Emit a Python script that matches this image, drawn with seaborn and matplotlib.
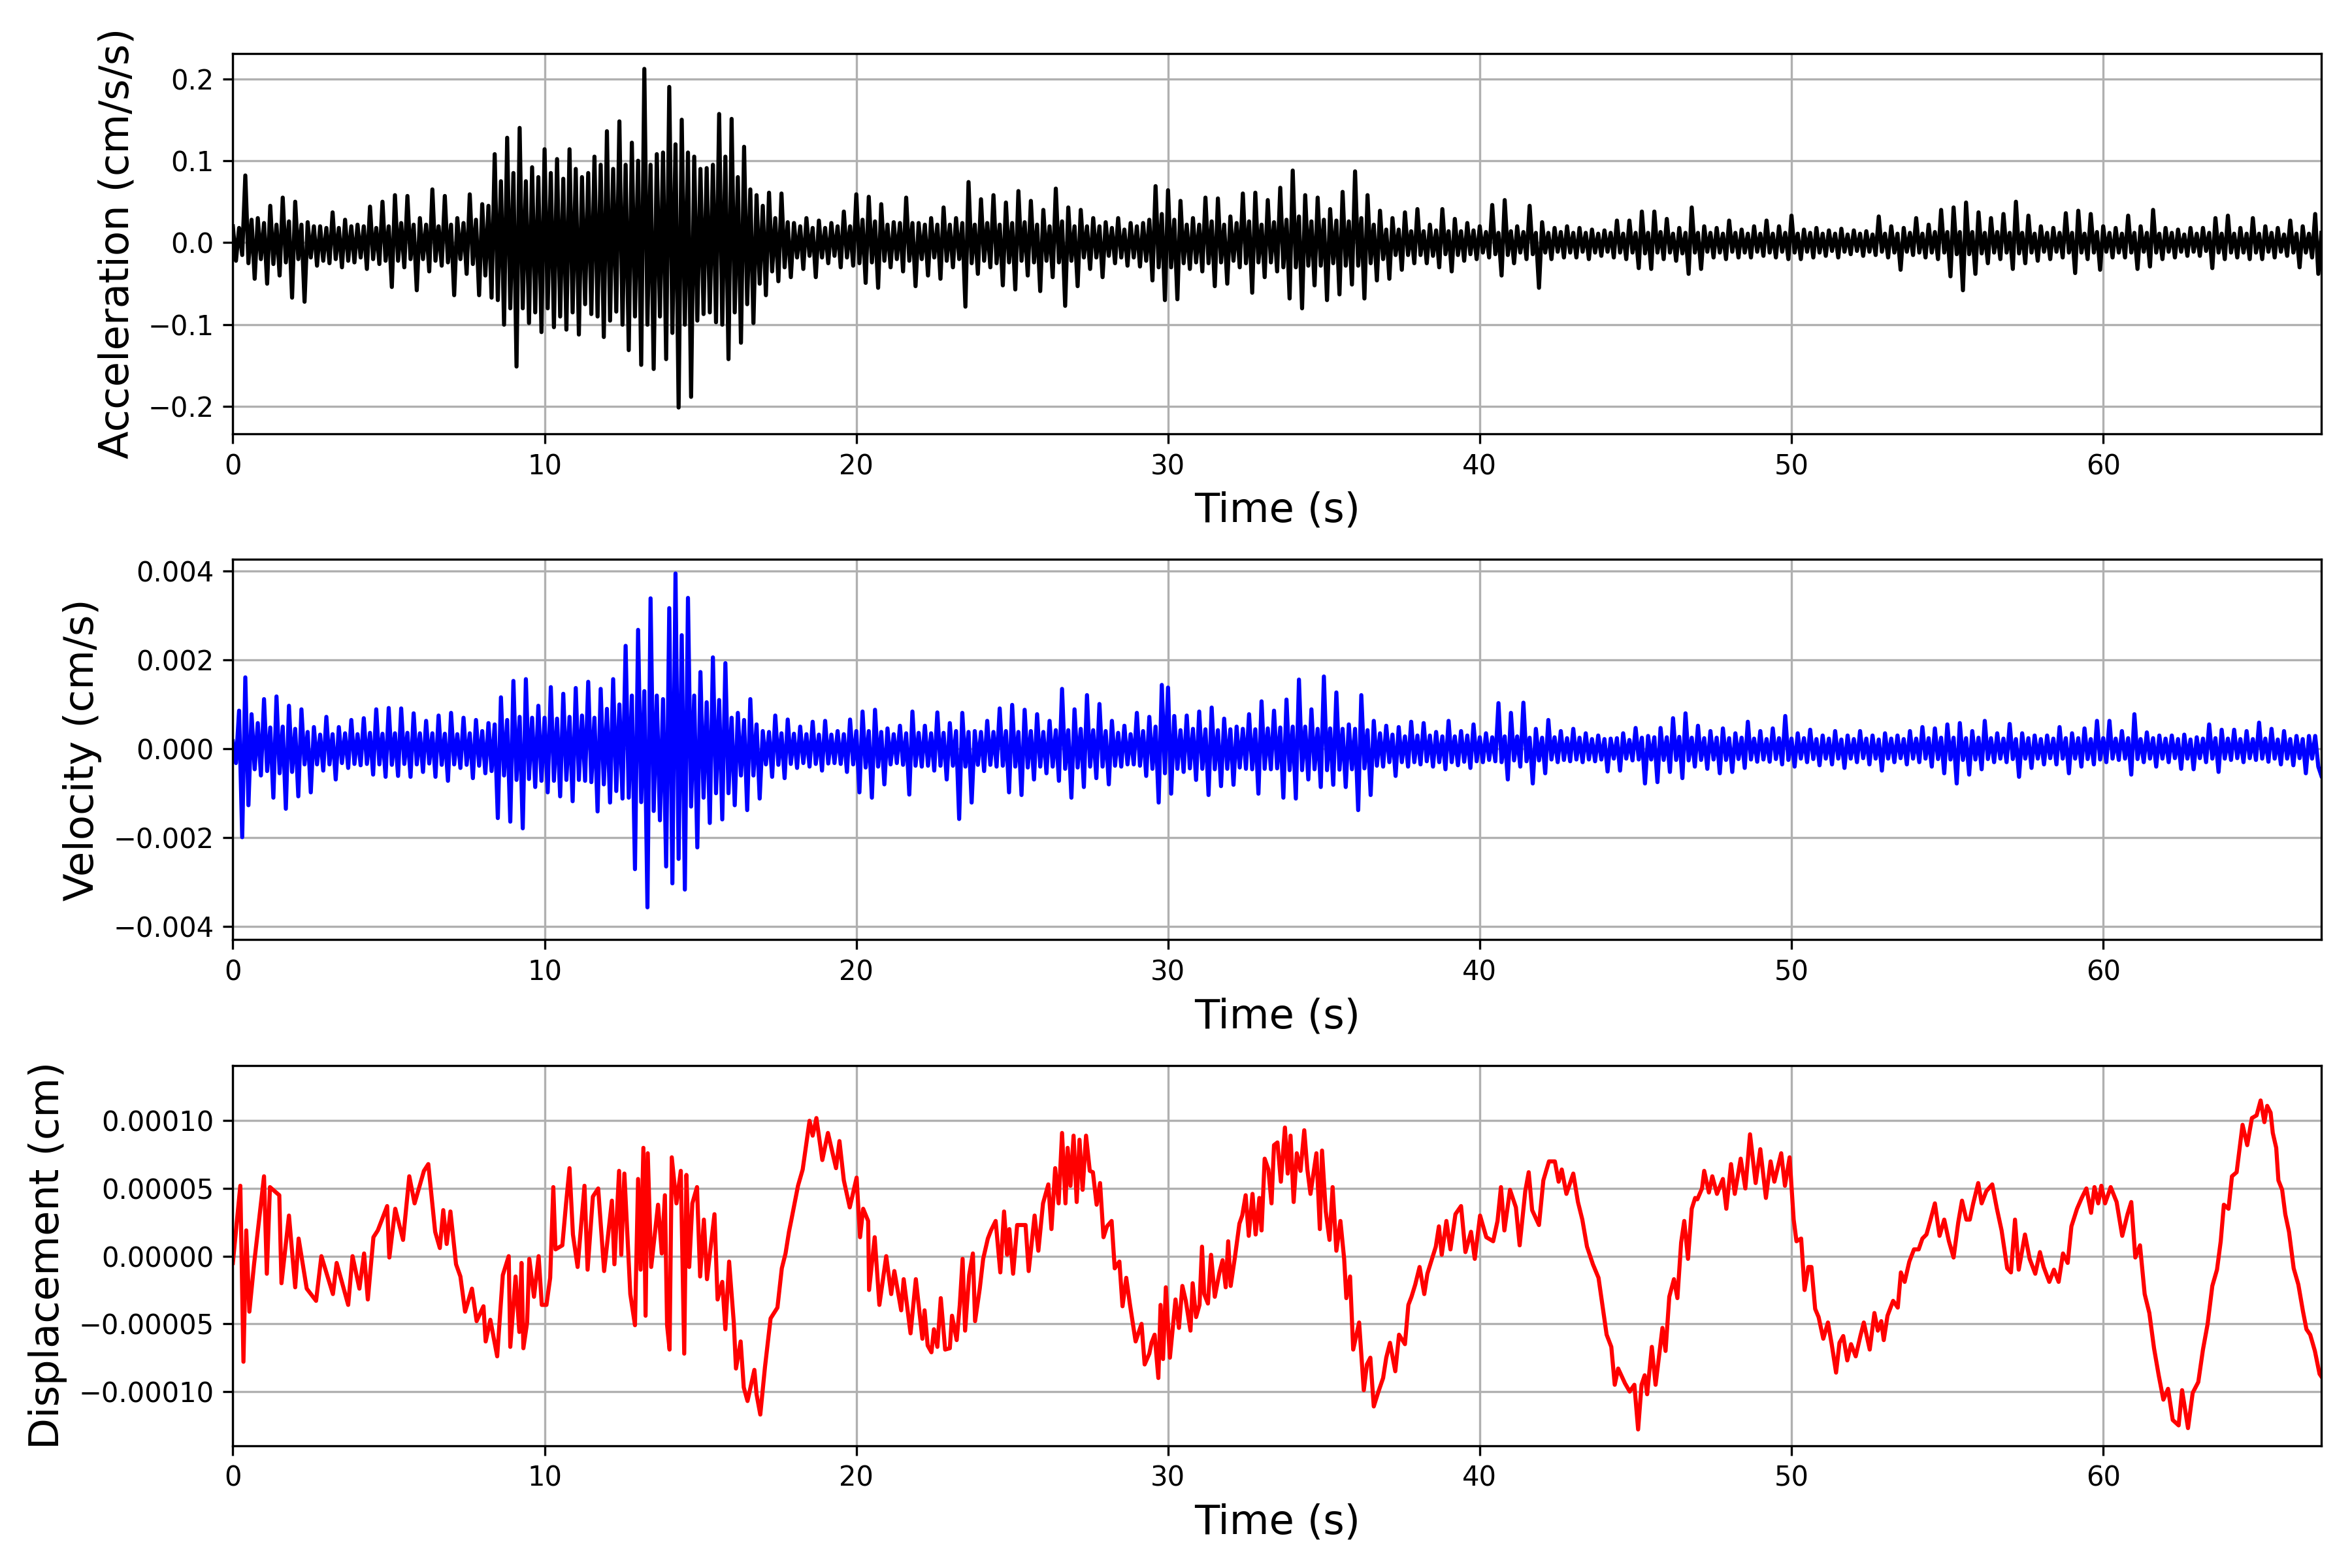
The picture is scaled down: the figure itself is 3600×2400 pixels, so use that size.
import numpy as np
import matplotlib
matplotlib.use("Agg")
import matplotlib.pyplot as plt
import seaborn as sns

# sample interval of the acceleration / velocity traces (s)
DT = 0.1

# acceleration, in units of 0.001 cm/s/s, one row per second (10 samples)
ACC_MILLI = [
    20, -22, 18, -15, 82, -25, 28, -44, 30, -20,
    24, -50, 45, -26, 22, -40, 55, -24, 26, -67,
    50, -20, 22, -72, 25, -18, 20, -28, 20, -22,
    18, -25, 37, -20, 18, -30, 28, -22, 20, -24,
    22, -18, 20, -32, 44, -20, 18, -26, 50, -22,
    20, -54, 58, -22, 24, -30, 57, -20, 22, -58,
    30, -20, 22, -35, 65, -22, 20, -28, 57, -24,
    22, -64, 30, -20, 24, -38, 59, -26, 28, -64,
    47, -40, 45, -67, 108, -70, 75, -100, 128, -80,
    85, -151, 140, -80, 75, -98, 92, -85, 80, -109,
    114, -80, 85, -103, 102, -90, 78, -106, 114, -85,
    90, -112, 80, -75, 85, -87, 105, -90, 95, -115,
    136, -95, 90, -84, 148, -100, 95, -131, 122, -90,
    100, -149, 212, -100, 95, -154, 108, -90, 110, -142,
    190, -110, 120, -201, 150, -100, 110, -188, 105, -95,
    90, -87, 91, -85, 95, -97, 157, -100, 105, -142,
    151, -85, 80, -122, 117, -75, 65, -98, 58, -50,
    45, -64, 61, -35, 30, -47, 60, -30, 25, -42,
    24, -18, 20, -32, 30, -16, 18, -42, 27, -18,
    18, -25, 24, -16, 20, -30, 38, -18, 20, -28,
    59, -25, 28, -49, 56, -24, 26, -55, 47, -22,
    22, -30, 25, -20, 24, -35, 55, -22, 24, -53,
    24, -20, 22, -40, 30, -18, 22, -44, 43, -22,
    22, -30, 30, -20, 24, -78, 74, -25, 22, -38,
    53, -22, 24, -30, 58, -25, 22, -52, 49, -24,
    24, -57, 63, -22, 25, -40, 51, -24, 22, -59,
    40, -22, 20, -42, 66, -24, 26, -77, 43, -22,
    20, -53, 40, -18, 20, -32, 30, -18, 20, -42,
    25, -16, 18, -25, 30, -18, 16, -28, 24, -18,
    20, -29, 24, -22, 28, -46, 69, -30, 35, -70,
    64, -30, 28, -69, 51, -25, 22, -32, 30, -24,
    22, -35, 55, -25, 26, -53, 54, -24, 22, -50,
    32, -22, 24, -30, 60, -25, 26, -61, 61, -24,
    22, -42, 52, -24, 25, -35, 67, -30, 28, -68,
    88, -30, 32, -80, 58, -28, 26, -52, 55, -28,
    28, -70, 41, -25, 27, -63, 62, -28, 26, -51,
    87, -28, 30, -68, 58, -25, 22, -46, 39, -20,
    16, -44, 30, -15, 16, -33, 37, -15, 14, -25,
    41, -15, 14, -25, 22, -16, 15, -30, 41, -14,
    14, -35, 29, -15, 14, -22, 24, -14, 15, -20,
    20, -12, 13, -18, 46, -14, 12, -40, 52, -15,
    14, -25, 20, -12, 13, -20, 45, -14, 12, -55,
    25, -12, 12, -20, 18, -11, 13, -18, 20, -12,
    12, -18, 18, -11, 12, -20, 16, -12, 11, -16,
    15, -11, 12, -18, 27, -12, 11, -20, 27, -12,
    12, -31, 38, -13, 12, -32, 38, -12, 13, -20,
    29, -12, 11, -22, 18, -13, 12, -38, 43, -12,
    12, -32, 20, -11, 12, -18, 18, -12, 11, -20,
    27, -11, 12, -18, 16, -12, 11, -18, 20, -11,
    11, -16, 27, -12, 11, -18, 20, -11, 12, -20,
    33, -12, 11, -20, 16, -11, 12, -18, 18, -12,
    11, -16, 15, -10, 11, -18, 17, -11, 10, -14,
    15, -10, 11, -16, 14, -11, 10, -15, 32, -11,
    11, -18, 20, -12, 11, -33, 18, -11, 12, -15,
    30, -12, 11, -18, 22, -12, 13, -20, 40, -12,
    13, -41, 43, -14, 13, -58, 49, -14, 13, -38,
    37, -13, 12, -25, 30, -12, 13, -20, 35, -12,
    12, -32, 50, -13, 12, -25, 33, -12, 11, -22,
    20, -11, 12, -20, 18, -11, 12, -18, 36, -12,
    12, -37, 39, -12, 11, -20, 35, -12, 13, -33,
    20, -11, 12, -18, 18, -12, 11, -18, 33, -12,
    12, -32, 20, -11, 12, -29, 40, -12, 11, -20,
    18, -11, 12, -18, 16, -11, 10, -16, 18, -11,
    11, -16, 18, -10, 12, -31, 30, -12, 11, -20,
    33, -12, 11, -18, 18, -12, 11, -20, 30, -12,
    11, -20, 20, -11, 12, -18, 18, -11, 10, -16,
    27, -12, 11, -30, 20, -12, 11, -18, 35, -38,
    12,
]

# velocity, in units of 1e-5 cm/s, one row per second (10 samples)
VEL_E5 = [
    17, -32, 86, -199, 161, -127, 78, -46, 58, -60,
    112, -50, 48, -110, 118, -55, 50, -135, 97, -52,
    45, -107, 89, -35, 38, -98, 49, -35, 32, -49,
    72, -35, 33, -69, 49, -32, 35, -43, 65, -34,
    33, -37, 69, -34, 36, -58, 89, -35, 34, -63,
    92, -36, 35, -61, 91, -34, 36, -63, 80, -35,
    35, -52, 63, -33, 35, -63, 75, -36, 34, -72,
    81, -35, 33, -43, 70, -36, 35, -66, 65, -38,
    40, -55, 58, -50, 55, -156, 116, -60, 65, -164,
    153, -70, 72, -179, 157, -68, 70, -86, 97, -72,
    70, -98, 139, -72, 68, -107, 124, -70, 72, -118,
    137, -70, 75, -72, 151, -75, 70, -141, 135, -80,
    90, -121, 157, -95, 100, -112, 232, -110, 120, -271,
    268, -120, 130, -357, 339, -140, 120, -161, 112, -265,
    317, -303, 395, -248, 256, -317, 340, -130, 120, -222,
    173, -110, 105, -167, 206, -100, 110, -159, 193, -100,
    70, -127, 81, -60, 65, -138, 112, -60, 55, -112,
    40, -35, 38, -63, 75, -36, 35, -66, 66, -34,
    34, -43, 50, -32, 33, -40, 61, -34, 32, -49,
    63, -33, 32, -32, 40, -34, 33, -52, 66, -35,
    40, -98, 84, -42, 40, -110, 88, -40, 38, -80,
    46, -35, 33, -32, 52, -36, 35, -103, 84, -38,
    36, -40, 52, -38, 35, -49, 82, -38, 36, -69,
    58, -38, 40, -158, 81, -40, 38, -121, 40, -36,
    38, -50, 63, -36, 38, -40, 91, -38, 40, -98,
    99, -40, 38, -104, 88, -42, 40, -69, 78, -40,
    38, -55, 63, -40, 42, -72, 135, -45, 42, -110,
    89, -42, 45, -86, 121, -40, 42, -66, 101, -40,
    40, -80, 63, -38, 36, -40, 52, -35, 33, -35,
    81, -38, 40, -61, 72, -45, 50, -121, 144, -55,
    138, -101, 74, -45, 42, -52, 75, -44, 45, -70,
    84, -45, 44, -104, 93, -46, 42, -84, 68, -45,
    44, -81, 50, -42, 45, -45, 78, -46, 44, -101,
    107, -45, 46, -46, 86, -44, 48, -110, 111, -48,
    50, -112, 156, -48, 50, -69, 89, -46, 45, -86,
    163, -48, 46, -81, 127, -47, 45, -86, 55, -46,
    45, -138, 121, -44, 42, -104, 63, -38, 35, -40,
    52, -30, 32, -61, 49, -30, 28, -40, 61, -30,
    30, -35, 58, -28, 30, -40, 38, -30, 28, -46,
    63, -30, 28, -37, 40, -29, 30, -43, 55, -28,
    26, -30, 35, -25, 26, -28, 103, -30, 28, -69,
    81, -26, 28, -40, 104, -28, 25, -78, 45, -26,
    25, -55, 65, -24, 26, -30, 40, -25, 24, -28,
    45, -24, 25, -30, 35, -24, 22, -28, 30, -24,
    22, -51, 23, -22, 24, -49, 35, -22, 20, -26,
    47, -24, 25, -78, 29, -24, 26, -75, 47, -25,
    26, -52, 69, -25, 27, -66, 80, -26, 25, -40,
    52, -25, 24, -45, 40, -24, 25, -55, 46, -25,
    24, -52, 35, -23, 25, -43, 61, -24, 23, -29,
    40, -24, 22, -29, 46, -23, 24, -35, 74, -25,
    23, -40, 35, -22, 24, -30, 43, -23, 22, -37,
    30, -22, 23, -35, 40, -22, 21, -43, 30, -22,
    22, -30, 40, -21, 23, -35, 30, -22, 21, -49,
    35, -22, 23, -30, 30, -21, 22, -35, 40, -22,
    23, -30, 49, -22, 24, -40, 46, -23, 25, -55,
    55, -24, 25, -78, 58, -25, 24, -58, 40, -24,
    25, -46, 63, -23, 24, -30, 35, -22, 23, -30,
    56, -23, 22, -63, 35, -22, 24, -43, 30, -22,
    22, -35, 30, -21, 23, -35, 49, -22, 24, -55,
    35, -22, 24, -40, 46, -23, 22, -35, 63, -24,
    24, -30, 63, -22, 23, -25, 40, -22, 24, -58,
    78, -23, 22, -30, 37, -22, 24, -40, 30, -22,
    23, -30, 30, -21, 22, -45, 32, -22, 21, -46,
    26, -21, 23, -30, 55, -22, 24, -52, 43, -22,
    23, -25, 43, -21, 22, -30, 40, -21, 22, -25,
    59, -22, 23, -29, 45, -22, 21, -35, 40, -22,
    22, -37, 29, -21, 22, -55, 29, -22, 29, -40,
    -61,
]

# displacement turning points: time (s) and value in 1e-5 cm
DISP_T = [
    0.00, 0.24, 0.34, 0.43, 0.53, 0.68, 1.00, 1.09, 1.19, 1.49, 1.56, 1.80,
    2.00, 2.11, 2.37, 2.67, 2.84, 3.21, 3.33, 3.70, 3.84, 4.06, 4.21, 4.33,
    4.51, 4.65, 4.95, 5.02, 5.21, 5.46, 5.66, 5.83, 6.13, 6.27, 6.49, 6.64,
    6.75, 6.86, 6.98, 7.16, 7.30, 7.45, 7.67, 7.82, 8.04, 8.11, 8.26, 8.48,
    8.66, 8.85, 8.90, 9.07, 9.19, 9.26, 9.32, 9.44, 9.51, 9.66, 9.81, 9.91,
    10.06, 10.18, 10.28, 10.35, 10.57, 10.69, 10.80, 10.91, 11.06, 11.28,
    11.38, 11.55, 11.72, 11.91, 12.16, 12.24, 12.39, 12.46, 12.56, 12.75,
    12.90, 13.00, 13.08, 13.17, 13.24, 13.31, 13.42, 13.64, 13.76, 13.86,
    13.93, 14.01, 14.08, 14.23, 14.37, 14.48, 14.55, 14.64, 14.74, 14.89,
    14.99, 15.11, 15.21, 15.45, 15.55, 15.70, 15.80, 15.92, 16.07, 16.14,
    16.29, 16.39, 16.51, 16.73, 16.80, 16.92, 17.07, 17.25, 17.47, 17.61,
    17.73, 17.84, 17.91, 18.13, 18.28, 18.50, 18.60, 18.72, 18.91, 19.09,
    19.35, 19.46, 19.60, 19.79, 20.01, 20.12, 20.22, 20.38, 20.41, 20.59,
    20.74, 20.96, 21.12, 21.22, 21.44, 21.52, 21.74, 21.91,
    22.12, 22.19, 22.29, 22.41, 22.49, 22.60, 22.71, 22.85, 23.00, 23.07,
    23.22, 23.32, 23.41, 23.49, 23.62, 23.74, 23.81, 23.96, 24.07, 24.22,
    24.32, 24.47, 24.62, 24.74, 24.84, 24.91, 25.03, 25.16, 25.43, 25.53,
    25.72, 25.84, 25.99, 26.16, 26.26, 26.38, 26.49, 26.60, 26.71, 26.78,
    26.87, 26.97, 27.07, 27.16, 27.26, 27.37, 27.49, 27.59, 27.71, 27.82,
    27.93, 28.04, 28.19, 28.29, 28.44, 28.54, 28.66, 28.78, 28.96, 29.15,
    29.25, 29.40, 29.47, 29.57, 29.69, 29.76, 29.84, 29.93, 30.06, 30.24,
    30.35, 30.46, 30.57, 30.72, 30.79, 30.90, 31.01, 31.09, 31.16, 31.28,
    31.38, 31.50, 31.65, 31.75, 31.85, 31.93, 32.01, 32.15, 32.29, 32.38,
    32.49, 32.59, 32.71, 32.81, 32.93, 33.00, 33.10, 33.22, 33.32, 33.40,
    33.51, 33.62, 33.75, 33.84, 33.93, 34.03, 34.13, 34.25, 34.37, 34.47,
    34.57, 34.76, 34.87, 34.94, 35.06, 35.18, 35.28, 35.40, 35.53, 35.65,
    35.72, 35.84, 35.94, 36.13, 36.28, 36.38, 36.49, 36.60, 36.75, 36.90,
    37.00, 37.12, 37.29, 37.41, 37.60, 37.71, 37.81, 37.93, 38.07, 38.22,
    38.32, 38.44, 38.59, 38.69, 38.78, 38.93, 39.06, 39.22, 39.40, 39.54,
    39.72, 39.84, 40.01, 40.21, 40.43, 40.57, 40.68, 40.79, 40.97, 41.16,
    41.28, 41.46, 41.57, 41.68, 41.90, 42.04, 42.22, 42.41, 42.53, 42.63,
    42.78, 43.00, 43.15, 43.29, 43.44, 43.63, 43.81,
    44.07, 44.22, 44.33, 44.44, 44.54, 44.66, 44.81, 44.96, 45.08, 45.19,
    45.29, 45.37, 45.52, 45.64, 45.74, 45.86, 45.96, 46.08, 46.23, 46.34,
    46.46, 46.56, 46.68, 46.80, 46.91, 46.98, 47.13, 47.20, 47.35, 47.46,
    47.61, 47.80, 47.91, 48.06, 48.18, 48.37, 48.52, 48.67, 48.85, 49.00,
    49.18, 49.33, 49.45, 49.67, 49.79, 49.94, 50.07, 50.16, 50.31, 50.42,
    50.54, 50.64, 50.76, 50.87, 51.02, 51.17, 51.29, 51.43, 51.54, 51.66,
    51.79, 51.91, 52.06, 52.21, 52.32, 52.51, 52.66, 52.77, 52.88, 52.96,
    53.08, 53.26, 53.41, 53.51, 53.63, 53.78, 53.93, 54.08, 54.20, 54.33,
    54.45, 54.60, 54.75, 54.90, 55.05, 55.20, 55.35, 55.47, 55.61, 55.72,
    55.83, 55.99, 56.10, 56.25, 56.44, 56.59, 56.74, 56.92, 57.04, 57.17,
    57.29, 57.49, 57.64, 57.82, 57.97, 58.09, 58.27, 58.42, 58.57, 58.71,
    58.86, 58.98, 59.16, 59.31, 59.46, 59.61, 59.72, 59.84, 59.94, 60.06,
    60.24, 60.43, 60.61, 60.78, 60.90, 61.03, 61.18, 61.33, 61.48, 61.63,
    61.78, 61.93, 62.08, 62.23, 62.42, 62.53, 62.72, 62.87, 63.05, 63.20,
    63.35, 63.50, 63.65, 63.77, 63.87, 64.02, 64.13, 64.28, 64.47, 64.62,
    64.77, 64.92, 65.05, 65.17, 65.26, 65.37, 65.44, 65.55, 65.62, 65.74,
    65.84, 65.96, 66.11, 66.26, 66.41, 66.52, 66.64, 66.79, 66.94, 67.00,
]
DISP_E5 = [
    -0.5, 5.2, -7.8, 1.9, -4.1, -0.6, 5.9, -1.3, 5.1, 4.5, -2.0, 3.0,
    -2.3, 1.3, -2.4, -3.3, 0.0, -2.8, -0.5, -3.6, 0.0, -2.4, 0.2, -3.2,
    1.4, 1.9, 3.7, -0.1, 3.5, 1.2, 5.9, 3.9, 6.3, 6.8, 1.8, 0.6,
    3.4, 0.9, 3.3, -0.6, -1.5, -4.1, -2.4, -4.8, -3.7, -6.3, -4.7, -7.4,
    -1.4, 0.0, -6.7, -1.5, -5.6, -0.5, -6.8, -4.9, -0.2, -3.0, 0.0, -3.6,
    -3.6, -1.6, 5.1, 0.5, 0.8, 3.9, 6.5, 1.6, -0.8, 5.2,
    -1.0, 4.4, 5.0, -1.1, 4.1, -0.6, 6.3, 0.1, 6.1, -2.8,
    -5.1, 5.7, -1.0, 8.0, -4.4, 7.6, -0.8, 3.8, 0.2, 4.5,
    -5.1, -6.9, 7.3, 3.9, 6.3, -7.2, 6.0, -0.8, 3.9, 5.1,
    -1.5, 2.7, -1.7, 3.1, -3.2, -1.9, -5.4, -0.4, -4.9, -8.3,
    -6.3, -9.7, -10.7, -8.4, -10.2, -11.7, -8.2, -4.6, -3.8, -0.9,
    0.2, 1.8, 2.6, 5.2, 6.4, 10.0, 8.9, 10.2, 7.1, 9.1,
    6.5, 8.5, 5.6, 3.6, 5.8, 1.4, 3.5, 2.6, -2.5, 1.4,
    -3.6, 0.0, -2.8, -1.1, -4.0, -1.7, -5.7, -1.7,
    -6.1, -4.0, -6.6, -7.1, -5.4, -6.7, -3.1, -6.9, -6.8, -4.4,
    -6.2, -3.6, -0.2, -5.5, -1.4, 0.2, -4.8, -2.4, -0.2, 1.3,
    1.9, 2.6, -1.2, 3.3, 0.1, 2.0, -1.3, 2.3, 2.3, -1.1,
    3.0, 0.4, 3.9, 5.3, 2.0, 6.5, 3.9, 9.1, 3.9, 8.0,
    5.2, 8.9, 4.0, 8.6, 4.9, 8.9, 6.3, 6.2, 3.8, 5.4,
    1.4, 2.2, 2.6, -0.9, -0.4, -3.7, -1.6, -3.6, -6.3, -5.0,
    -8.0, -7.2, -6.4, -5.8, -9.0, -3.6, -7.6, -2.3, -7.5, -3.2,
    -5.3, -2.2, -3.3, -5.5, -2.0, -4.5, -3.6, 0.7, -2.8, -3.5,
    0.1, -3.0, -1.2, -0.3, -2.3, 1.1, -2.2, 0.0, 2.4, 3.0,
    4.5, 1.5, 4.6, 1.6, 4.3, 1.9, 7.2, 6.4, 3.9, 8.2,
    8.4, 5.5, 9.5, 6.1, 8.9, 4.0, 7.6, 6.3, 9.3, 6.4,
    4.6, 7.6, 2.0, 7.8, 3.3, 1.2, 5.1, 0.4, 2.6, -0.2,
    -3.1, -1.5, -6.9, -4.9, -9.9, -8.0, -7.5, -11.1, -10.0, -9.0,
    -7.5, -6.4, -8.5, -5.8, -6.5, -3.6, -3.0, -2.1, -0.8, -2.8,
    -1.3, -0.4, 0.7, 2.2, 0.1, 2.6, 0.5, 3.1, 3.7, 0.3,
    1.8, -0.2, 3.0, 1.4, 1.1, 2.6, 5.1, 1.9, 4.9, 3.6,
    0.8, 4.8, 6.2, 3.4, 2.3, 5.6, 7.0, 7.0, 5.5, 6.4,
    4.6, 6.1, 4.0, 2.7, 0.7, -0.6, -1.6,
    -5.8, -6.7, -9.5, -8.3, -8.8, -9.4, -10.0, -9.5, -12.8, -9.5,
    -8.8, -10.2, -6.7, -9.5, -7.6, -5.3, -7.0, -3.0, -1.7, -3.1,
    1.0, 2.6, -0.2, 3.5, 4.3, 4.2, 5.0, 6.3, 4.7, 5.9,
    4.6, 5.7, 3.5, 6.8, 4.6, 7.2, 5.0, 9.0, 5.4, 7.9,
    4.3, 7.0, 5.5, 7.6, 5.2, 7.3, 2.7, 1.1, 1.3, -2.5,
    -0.8, -0.8, -3.9, -4.5, -6.1, -4.9, -6.5, -8.6, -6.4, -5.9,
    -7.7, -6.5, -7.4, -5.9, -4.9, -6.9, -4.2, -5.5, -4.8, -6.2,
    -4.4, -3.3, -3.8, -1.2, -1.9, -0.4, 0.5, 0.5, 1.3, 1.6,
    2.6, 3.9, 1.5, 2.7, 1.1, -0.1, 2.5, 4.1, 2.7, 2.7,
    3.9, 5.4, 3.9, 4.8, 5.3, 3.5, 1.9, -0.9, -1.2, 2.7,
    -1.0, 1.6, -0.2, -1.3, 0.3, -0.8, -1.9, -1.0, -1.9, 0.2,
    -0.5, 2.2, 3.5, 4.3, 5.0, 3.2, 5.1, 3.9, 5.2, 3.9,
    5.1, 4.0, 1.5, 3.1, 4.0, -0.1, 0.8, -2.8, -4.2, -6.8,
    -8.8, -10.6, -9.8, -12.1, -12.5, -9.9, -12.7, -10.1, -9.3, -6.9,
    -5.0, -2.2, -1.0, 1.1, 3.8, 3.5, 5.9, 6.2, 9.7, 8.2,
    10.2, 10.4, 11.5, 9.9, 11.1, 10.6, 9.1, 8.0, 5.6, 4.9,
    3.1, 1.8, -0.9, -2.1, -4.1, -5.4, -5.8, -7.0, -8.7, -8.9,
]

acc = np.array(ACC_MILLI) * 1e-3
vel = np.array(VEL_E5) * 1e-5
time = np.arange(len(acc)) * DT
disp_t = np.array(DISP_T)
disp = np.array(DISP_E5) * 1e-5

panels = [
    (time, acc, "black", "Acceleration (cm/s/s)", (-0.233, 0.231)),
    (time, vel, "blue", "Velocity (cm/s)", (-0.0043, 0.00427)),
    (disp_t, disp, "red", "Displacement (cm)", (-0.000140, 0.000141)),
]

fig, axes = plt.subplots(3, 1, figsize=(12, 8))
fig.subplots_adjust(left=0.099, right=0.987, top=0.966, bottom=0.078, hspace=0.33)

for ax, (x, y, color, label, ylim) in zip(axes, panels):
    sns.lineplot(x=x, y=y, ax=ax, color=color, linewidth=1.5, estimator=None, sort=False)
    ax.set_xlim(0, 67)
    ax.set_ylim(*ylim)
    ax.set_xlabel("Time (s)", fontsize=15)
    ax.set_ylabel(label, fontsize=15)
    ax.tick_params(labelsize=10)
    ax.grid(True)

fig.savefig("out.png", dpi=300)
plt.close(fig)
